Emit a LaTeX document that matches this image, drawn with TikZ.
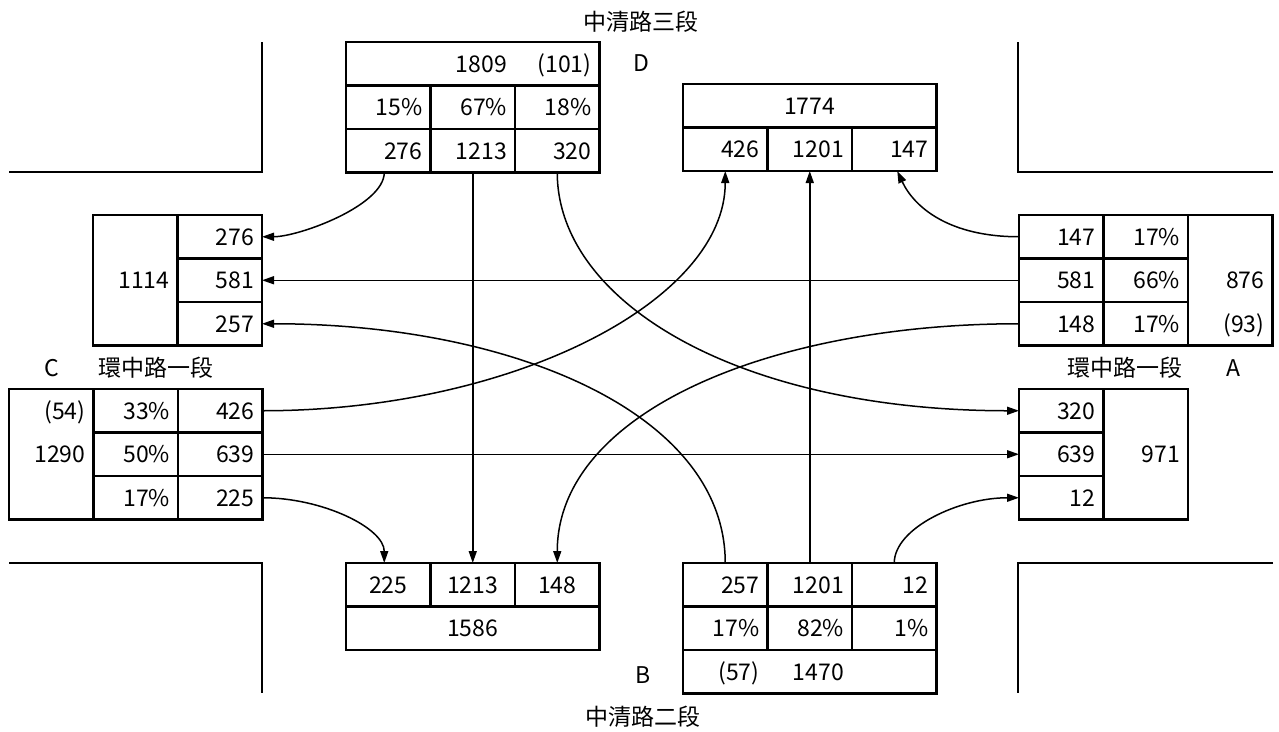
\documentclass[tikz,border=0pt]{standalone}
\usepackage{fontspec}
\setmainfont{Noto Sans CJK TC}
\usepackage{tikz}
\usetikzlibrary{arrows.meta, positioning}

\tikzset{
	cell/.style={
			draw,
			line width=2.6pt,
			inner xsep=8pt,
			inner ysep=0pt,
			outer sep=0pt,
			minimum height=43.5pt,
			text width=68.5pt,
			align=right
		},
	txt/.style={cell, draw=none},
	road/.style={line width=2.7pt},
	trafficarrow/.style={->, >={Triangle[length=12pt, width=8pt]}, line width=1.5pt}
}

\begin{document}
\begin{tikzpicture}[
			x=1pt, y=1pt,
			every node/.style={
					font=\fontsize{23}{27}\selectfont,
					text height=17pt, % digits only
					text depth=0pt
				}
		]
		\useasboundingbox (0,0) rectangle (1279,-731);

		% corners of the crossing
		\draw[road] (262,-42) -- (262,-172) -- (9,-172);
		\draw[road] (9,-563) -- (262,-563) -- (262,-693);
		\draw[road] (1018,-42) -- (1018,-172) -- (1273,-172);
		\draw[road] (1273,-563) -- (1018,-563) -- (1018,-693);

		% D, coming in
		\node[cell, text width=237.5pt, anchor=north west] (dtop) at (346,-42) {};
		\node[cell, anchor=north west] (d15) at (dtop.south west) {15\%};
		\node[cell, right=0pt of d15] (d67) {67\%};
		\node[cell, right=0pt of d67] (d18) {18\%};
		\node[cell, below=0pt of d15] (d276) {276};
		\node[cell, right=0pt of d276] (d1213) {1213};
		\node[cell, right=0pt of d1213] (d320) {320};
		\node[txt, above=0pt of d67] (d1809) {1809};
		\node[txt, above=0pt of d18] (d101) {(101)};

		% D, going out
		\node[cell, text width=237.5pt, align=center, anchor=north west] (dx1774) at (683,-84) {1774};
		\node[cell, anchor=north west] (dx426) at (dx1774.south west) {426};
		\node[cell, right=0pt of dx426] (dx1201) {1201};
		\node[cell, right=0pt of dx1201] (dx147) {147};

		% C, going out
		\node[cell, minimum height=130.5pt, anchor=north west] (w1114) at (93,-215) {1114};
		\node[cell, anchor=north west] (w276) at (w1114.north east) {276};
		\node[cell, below=0pt of w276] (w581) {581};
		\node[cell, below=0pt of w581] (w257) {257};

		% C, coming in
		\node[cell, minimum height=130.5pt, anchor=north west] (c1290) at (9,-389) {1290};
		\node[cell, anchor=north west] (c33) at (c1290.north east) {33\%};
		\node[cell, below=0pt of c33] (c50) {50\%};
		\node[cell, below=0pt of c50] (c17) {17\%};
		\node[cell, right=0pt of c33] (c426) {426};
		\node[cell, right=0pt of c50] (c639) {639};
		\node[cell, right=0pt of c17] (c225) {225};
		\node[txt, left=0pt of c33] (c54) {(54)};

		% A, coming in
		\node[cell, anchor=north west] (a147) at (1019,-215) {147};
		\node[cell, below=0pt of a147] (a581) {581};
		\node[cell, below=0pt of a581] (a148) {148};
		\node[cell, right=0pt of a147] (a17t) {17\%};
		\node[cell, right=0pt of a581] (a66) {66\%};
		\node[cell, right=0pt of a148] (a17b) {17\%};
		\node[cell, minimum height=130.5pt, anchor=north west] (a876) at (a17t.north east) {876};
		\node[txt, right=0pt of a17b] (a93) {(93)};

		% A, going out
		\node[cell, anchor=north west] (ax320) at (1019,-389) {320};
		\node[cell, below=0pt of ax320] (ax639) {639};
		\node[cell, below=0pt of ax639] (ax12) {12};
		\node[cell, minimum height=130.5pt, anchor=north west] (ax971) at (ax320.north east) {971};

		% B, going out
		\node[cell, align=center, anchor=north west] (bx225) at (346,-563) {225};
		\node[cell, align=center, right=0pt of bx225] (bx1213) {1213};
		\node[cell, align=center, right=0pt of bx1213] (bx148) {148};
		\node[cell, text width=237.5pt, align=center, anchor=north west] (bx1586) at (bx225.south west) {1586};

		% B, coming in
		\node[cell, anchor=north west] (b257) at (683,-563) {257};
		\node[cell, right=0pt of b257] (b1201) {1201};
		\node[cell, right=0pt of b1201] (b12) {12};
		\node[cell, below=0pt of b257] (b17) {17\%};
		\node[cell, below=0pt of b1201] (b82) {82\%};
		\node[cell, below=0pt of b12] (b1) {1\%};
		\node[cell, text width=237.5pt, anchor=north west] (bbot) at (b17.south west) {};
		\node[txt, below=0pt of b17] (b57) {(57)};
		\node[txt, below=0pt of b82] (b1470) {1470};

		% street names
		\node (roadN) at (641,-22) {中清路三段};
		\node (roadS) at (643,-717) {中清路二段};
		\node (roadW) at (156,-368) {環中路一段};
		\node (roadE) at (1125,-368) {環中路一段};
		\node (labD) at (641,-63) {D};
		\node (labC) at (52,-368) {C};
		\node (labA) at (1233,-368) {A};
		\node (labB) at (643,-675) {B};

		% movements
		\draw[trafficarrow] ([xshift=-4pt]d276.south) to[out=-90, in=0, out distance=33pt, in distance=37pt] (w276.east);
		\draw[trafficarrow] (d1213.south) -- (bx1213.north);
		\draw[trafficarrow] (d320.south) to[out=-90, in=180, out distance=130pt, in distance=280pt] (ax320.west);

		\draw[trafficarrow] (a147.west) to[out=180, in=-65, out distance=70pt, in distance=40pt] ([xshift=3pt]dx147.south);
		\draw[trafficarrow] (a581.west) -- (w581.east);
		\draw[trafficarrow] (a148.west) to[out=180, in=90, out distance=250pt, in distance=150pt] (bx148.north);

		\draw[trafficarrow] (c426.east) to[out=0, in=-90, out distance=250pt, in distance=130pt] (dx426.south);
		\draw[trafficarrow] (c639.east) -- (ax639.west);
		\draw[trafficarrow] (c225.east) to[out=0, in=90, out distance=60pt, in distance=35pt] ([xshift=-4pt]bx225.north);

		\draw[trafficarrow] (b257.north) to[out=90, in=0, out distance=150pt, in distance=250pt] (w257.east);
		\draw[trafficarrow] (b1201.north) -- (dx1201.south);
		\draw[trafficarrow] (b12.north) to[out=90, in=180, out distance=35pt, in distance=60pt] (ax12.west);

	\end{tikzpicture}
\end{document}
